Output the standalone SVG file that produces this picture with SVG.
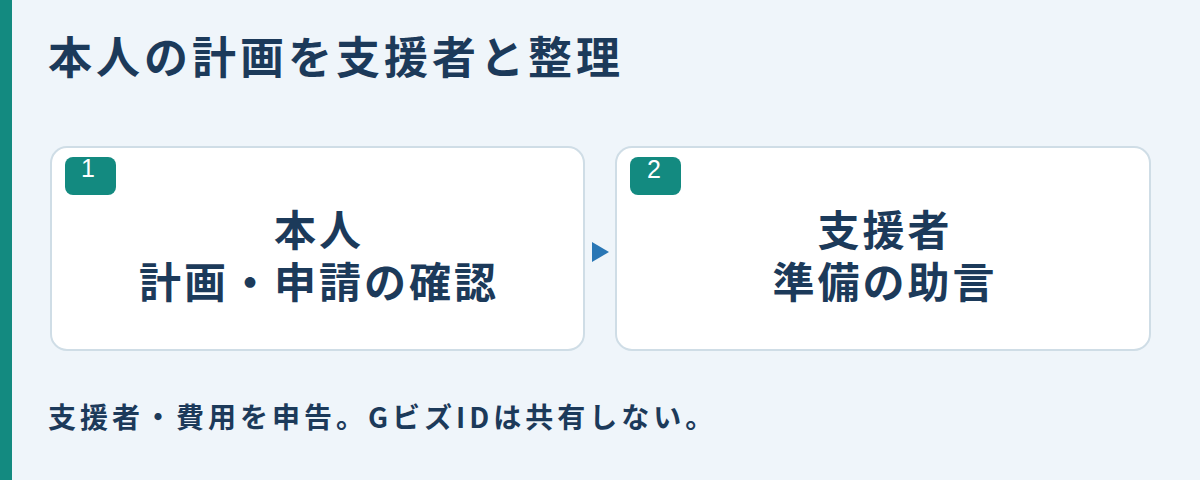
<svg xmlns="http://www.w3.org/2000/svg" width="1200" height="480" viewBox="0 0 1200 480">
<style>
text{font-family:"Noto Sans CJK JP","Noto Sans",sans-serif;font-weight:700;fill:#1c3a5a}
.card{fill:#ffffff;stroke:#cfdde6;stroke-width:2}
.badge{fill:#138a80}
.num{fill:#ffffff;font-family:"Liberation Sans","Noto Sans",sans-serif;font-size:25px;text-anchor:middle;font-weight:400}
.lbl{font-size:42px;letter-spacing:3px;text-anchor:middle}
</style>
<rect width="1200" height="480" fill="#eff5fa"/>
<rect x="0" y="0" width="12" height="480" fill="#138a80"/>
<text x="48" y="74" font-size="44" letter-spacing="4">本人の計画を支援者と整理</text>
<g id="connectors">
<polygon points="592,242 609,252 592,262" fill="#2a77b5"/>
</g>
<g id="node1">
<rect class="card" x="51" y="147" width="533" height="203" rx="16"/>
<rect class="badge" x="65" y="157" width="51" height="38" rx="8"/>
<text class="num" x="88" y="177">1</text>
<text class="lbl"><tspan x="319" y="246">本人</tspan><tspan x="319" y="298">計画・申請の確認</tspan></text>
</g>
<g id="node2">
<rect class="card" x="616" y="147" width="534" height="203" rx="16"/>
<rect class="badge" x="630" y="157" width="51" height="38" rx="8"/>
<text class="num" x="654" y="178">2</text>
<text class="lbl"><tspan x="885" y="246">支援者</tspan><tspan x="885" y="298">準備の助言</tspan></text>
</g>
<text x="48" y="428" font-size="28" letter-spacing="4">支援者・費用を申告。GビズIDは共有しない。</text>
</svg>
